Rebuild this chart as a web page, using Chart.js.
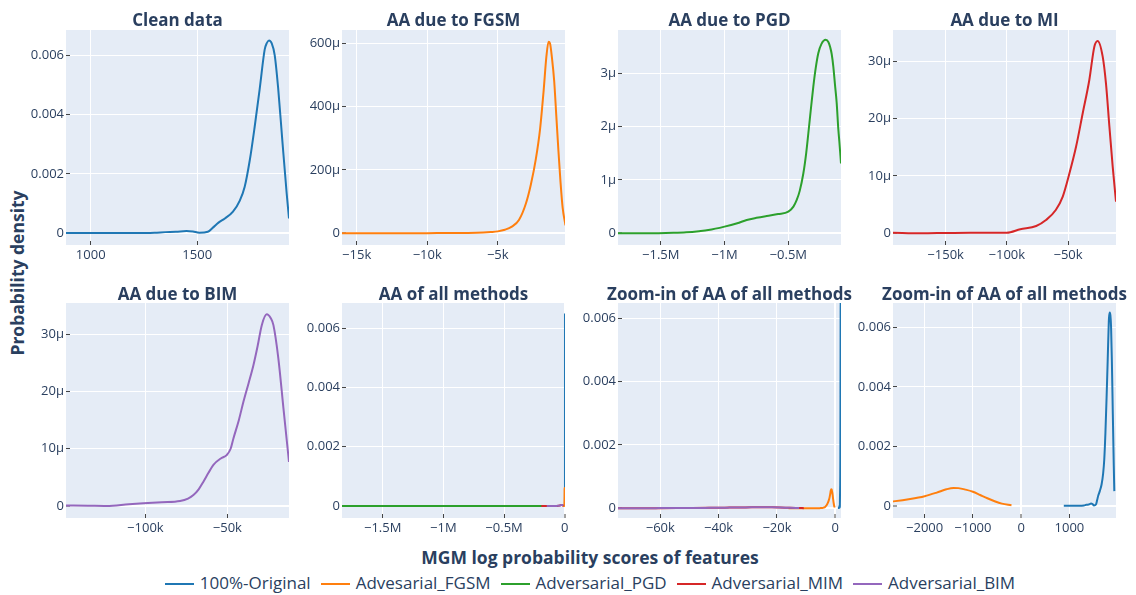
<!DOCTYPE html>
<html lang="en">
<head>
<meta charset="UTF-8" />
<title>MGM log probability scores</title>
<script src="https://cdn.jsdelivr.net/npm/chart.js@4.4.0/dist/chart.umd.min.js"></script>
<style>
  body { margin: 0; background: #fff; font-family: "Open Sans", sans-serif; color: #2a3f5f; }
  #page { position: relative; width: 1136px; height: 595px; overflow: hidden; }
  canvas { position: absolute; }
  .title { position: absolute; font-weight: bold; font-size: 17px; white-space: nowrap; transform: translate(-50%, -50%); }
  .axtitle { position: absolute; font-weight: bold; font-size: 17.5px; white-space: nowrap; transform: translate(-50%, -50%); }
  #ytitle { transform: translate(-50%, -50%) rotate(-90deg); }
  #legend { position: absolute; left: 0; width: 1180px; top: 571px; text-align: center; font-size: 17px; white-space: nowrap; }
  .item { display: inline-block; margin: 0 5px; }
  .sw { display: inline-block; width: 29px; height: 2px; vertical-align: middle; margin-right: 6px; }
</style>
</head>
<body>
<div id="page">
  <div class="axtitle" id="ytitle" style="left:17px; top:273px">Probability density</div>
  <div class="axtitle" style="left:590px; top:557px">MGM log probability scores of features</div>
  <div id="legend"></div>
</div>

<script>
// series names and colours (plotly defaults)
const seriesNames = ['100%-Original', 'Advesarial_FGSM', 'Adversarial_PGD', 'Adversarial_MIM', 'Adversarial_BIM'];
const seriesColors = ['#1f77b4', '#ff7f0e', '#2ca02c', '#d62728', '#9467bd'];

// KDE curves: x = log probability score, y = density
const cleanX = [884, 950, 1000, 1100, 1200, 1300, 1350, 1400, 1450, 1480, 1510, 1550, 1575, 1600, 1630, 1668, 1700, 1723, 1747, 1770, 1794, 1817, 1826, 1837, 1850, 1864, 1880, 1900, 1920, 1931];
const cleanY = [0.00001, 0.00001, 0.00001, 0.00001, 0.00001, 0.00002, 0.00004, 0.00005, 0.00008, 0.00006, 0.00002, 0.00005, 0.0002, 0.00036, 0.0005, 0.00073, 0.0011, 0.00157, 0.00247, 0.0036, 0.0049, 0.0062, 0.0064, 0.0065, 0.0064, 0.006, 0.0049, 0.0031, 0.00135, 0.0005];

const fgsmX = [-16040, -14000, -12000, -10000, -8000, -6500, -5500, -5000, -4500, -4000, -3500, -3000, -2650, -2300, -2000, -1750, -1550, -1400, -1300, -1150, -1000, -850, -700, -550, -400, -200];
const fgsmY = [0.5e-6, 0.5e-6, 0.5e-6, 0.5e-6, 0.6e-6, 1.5e-6, 4e-6, 6e-6, 11e-6, 21e-6, 42e-6, 95e-6, 155e-6, 235e-6, 330e-6, 450e-6, 560e-6, 605e-6, 600e-6, 550e-6, 480e-6, 370e-6, 260e-6, 160e-6, 80e-6, 25e-6];

const pgdX = [-1837000, -1600000, -1400000, -1300000, -1200000, -1127000, -1000000, -900000, -826000, -750000, -669000, -580000, -500000, -460000, -434000, -410000, -382000, -360000, -343000, -320000, -304000, -285000, -265000, -240000, -207000, -185000, -171000, -160000, -147000, -134000, -121000, -108000, -100000, -87000];
const pgdY = [0, 0, 0.01e-6, 0.02e-6, 0.04e-6, 0.06e-6, 0.125e-6, 0.19e-6, 0.25e-6, 0.29e-6, 0.325e-6, 0.36e-6, 0.405e-6, 0.5e-6, 0.625e-6, 0.8e-6, 1.125e-6, 1.5e-6, 1.875e-6, 2.4e-6, 2.75e-6, 3.1e-6, 3.375e-6, 3.55e-6, 3.625e-6, 3.58e-6, 3.48e-6, 3.36e-6, 3.12e-6, 2.78e-6, 2.45e-6, 1.95e-6, 1.72e-6, 1.31e-6];

const mimX = [-193000, -170000, -150000, -130000, -110000, -100000, -89000, -76000, -68000, -60000, -54300, -48900, -43400, -38000, -32600, -28500, -25800, -21700, -19000, -16200, -13500, -10800];
const mimY = [0.1e-6, 0, 0.05e-6, 0.1e-6, 0.1e-6, 0.1e-6, 0.7e-6, 1.27e-6, 2.3e-6, 4.06e-6, 6.4e-6, 10.4e-6, 15.1e-6, 20.9e-6, 26.7e-6, 32.5e-6, 33.5e-6, 30.8e-6, 26.1e-6, 18.6e-6, 11.6e-6, 5.5e-6];

const bimX = [-148400, -135000, -123600, -110000, -101200, -90000, -78800, -74000, -70700, -67500, -64600, -61500, -58500, -54000, -50400, -48000, -46300, -43000, -40200, -37000, -34100, -31500, -29000, -26000, -23500, -21900, -18900, -15800, -12400];
const bimY = [0.1e-6, 0.05e-6, 0, 0.3e-6, 0.47e-6, 0.65e-6, 0.87e-6, 1.3e-6, 1.9e-6, 2.9e-6, 4.25e-6, 5.8e-6, 7.2e-6, 8.3e-6, 8.9e-6, 10e-6, 11.8e-6, 15e-6, 18.2e-6, 21.5e-6, 24.6e-6, 28e-6, 31.6e-6, 33.5e-6, 32.8e-6, 31.6e-6, 25.8e-6, 17.1e-6, 7.7e-6];

const seriesX = [cleanX, fgsmX, pgdX, mimX, bimX];
const seriesY = [cleanY, fgsmY, pgdY, mimY, bimY];

// tick values per axis
const ticksClean = [1000, 1500];
const ticksFgsm = [-15000, -10000, -5000];
const ticksMillion = [-1500000, -1000000, -500000];
const ticksMillionZero = [-1500000, -1000000, -500000, 0];
const ticksMim = [-150000, -100000, -50000];
const ticksBim = [-100000, -50000];
const ticksZoom = [-60000, -40000, -20000, 0];
const ticksZoom2 = [-2000, -1000, 0, 1000];
const ticksDens = [0, 0.002, 0.004, 0.006];
const ticksFgsmDens = [0, 200e-6, 400e-6, 600e-6];
const ticksPgdDens = [0, 1e-6, 2e-6, 3e-6];
const ticksMimDens = [0, 10e-6, 20e-6, 30e-6];

// tick label formats, plotly style
const minus = s => s.replace('-', '\u2212');
const fmtPlain = v => minus(String(Math.round(v)));
const fmtK = v => v === 0 ? '0' : minus(+(v / 1000).toFixed(1) + 'k');
const fmtM = v => v === 0 ? '0' : minus(+(v / 1e6).toFixed(1) + 'M');
const fmtMicro = v => { const m = Math.round(v * 1e6); return m === 0 ? '0' : m + '\u03bc'; };
const fmtDec = v => Math.abs(v) < 1e-9 ? '0' : v.toFixed(3);

const W = 223, H = 215;
const panels = [
  { title: 'Clean data', left: 66, top: 30, x: [884, 1931, ticksClean, fmtPlain], y: [-0.000394, 0.006853, ticksDens, fmtDec], series: [0] },
  { title: 'AA due to FGSM', left: 342, top: 30, x: [-16040, -235, ticksFgsm, fmtK], y: [-37e-6, 642e-6, ticksFgsmDens, fmtMicro], series: [1] },
  { title: 'AA due to PGD', left: 618, top: 30, x: [-1835000, -87000, ticksMillion, fmtM], y: [-0.219e-6, 3.81e-6, ticksPgdDens, fmtMicro], series: [2] },
  { title: 'AA due to MI', left: 893, top: 30, x: [-193000, -10800, ticksMim, fmtK], y: [-2.04e-6, 35.4e-6, ticksMimDens, fmtMicro], series: [3] },
  { title: 'AA due to BIM', left: 66, top: 303, x: [-148400, -12400, ticksBim, fmtK], y: [-2.1e-6, 35.47e-6, ticksMimDens, fmtMicro], series: [4] },
  { title: 'AA of all methods', left: 342, top: 303, x: [-1835000, 1931, ticksMillionZero, fmtM], y: [-0.000405, 0.006854, ticksDens, fmtDec], series: [0, 1, 2, 3, 4] },
  { title: 'Zoom-in of AA of all methods', left: 618, top: 303, x: [-74500, 1950, ticksZoom, fmtK], y: [-0.000306, 0.006483, ticksDens, fmtDec], series: [0, 1, 2, 3, 4] },
  { title: 'Zoom-in of AA of all methods', left: 893, top: 303, x: [-2656, 1966, ticksZoom2, fmtPlain], y: [-0.000403, 0.006816, ticksDens, fmtDec], series: [0, 1, 2, 3, 4] }
];

Chart.defaults.font.family = '"Open Sans", sans-serif';
Chart.defaults.font.size = 13;
Chart.defaults.color = '#2a3f5f';

const plotBg = {
  id: 'plotBg',
  beforeDraw(chart) {
    const { ctx, chartArea: a } = chart;
    ctx.save();
    ctx.fillStyle = '#E5ECF6';
    ctx.fillRect(a.left, a.top, a.width, a.height);
    ctx.restore();
  }
};

function axis(r, pos) {
  return {
    type: 'linear', position: pos, min: r[0], max: r[1],
    border: { display: false },
    grid: {
      color: '#ffffff',
      lineWidth: c => (c.tick && c.tick.value === 0 ? 2 : 1),
      tickLength: -4, tickColor: '#444', tickWidth: 1
    },
    ticks: { padding: 6, maxRotation: 0, autoSkip: false, callback: v => r[3](v) },
    afterBuildTicks: s => { s.ticks = r[2].map(v => ({ value: v })); },
    afterFit: s => { if (pos === 'left') s.width = 60; else s.height = 28; }
  };
}

const page = document.getElementById('page');
panels.forEach((p, n) => {
  const cv = document.createElement('canvas');
  cv.width = W + 62 + 20;
  cv.height = H + 16 + 28;
  cv.style.left = (p.left - 62) + 'px';
  cv.style.top = (p.top - 16) + 'px';
  page.appendChild(cv);

  const t = document.createElement('div');
  t.className = 'title';
  t.textContent = p.title;
  t.style.left = (p.left + W / 2) + 'px';
  t.style.top = (p.top - (n < 4 ? 11 : 10.5)) + 'px';
  page.appendChild(t);

  new Chart(cv, {
    type: 'line',
    data: {
      datasets: p.series.map(i => ({
        label: seriesNames[i],
        data: seriesX[i].map((x, k) => ({ x: x, y: seriesY[i][k] })),
        borderColor: seriesColors[i],
        borderWidth: 2,
        pointRadius: 0,
        fill: false,
        cubicInterpolationMode: 'monotone',
        order: 5 - i
      }))
    },
    options: {
      responsive: false,
      animation: false,
      layout: { padding: { left: 2, right: 20, top: 16, bottom: 0 } },
      plugins: { legend: { display: false }, tooltip: { enabled: false } },
      scales: { x: axis(p.x, 'bottom'), y: axis(p.y, 'left') }
    },
    plugins: [plotBg]
  });
});

// legend row
const legend = document.getElementById('legend');
seriesNames.forEach((name, i) => {
  const item = document.createElement('span');
  item.className = 'item';
  item.innerHTML = '<span class="sw" style="background:' + seriesColors[i] + '"></span>' + name;
  legend.appendChild(item);
});
</script>
</body>
</html>
